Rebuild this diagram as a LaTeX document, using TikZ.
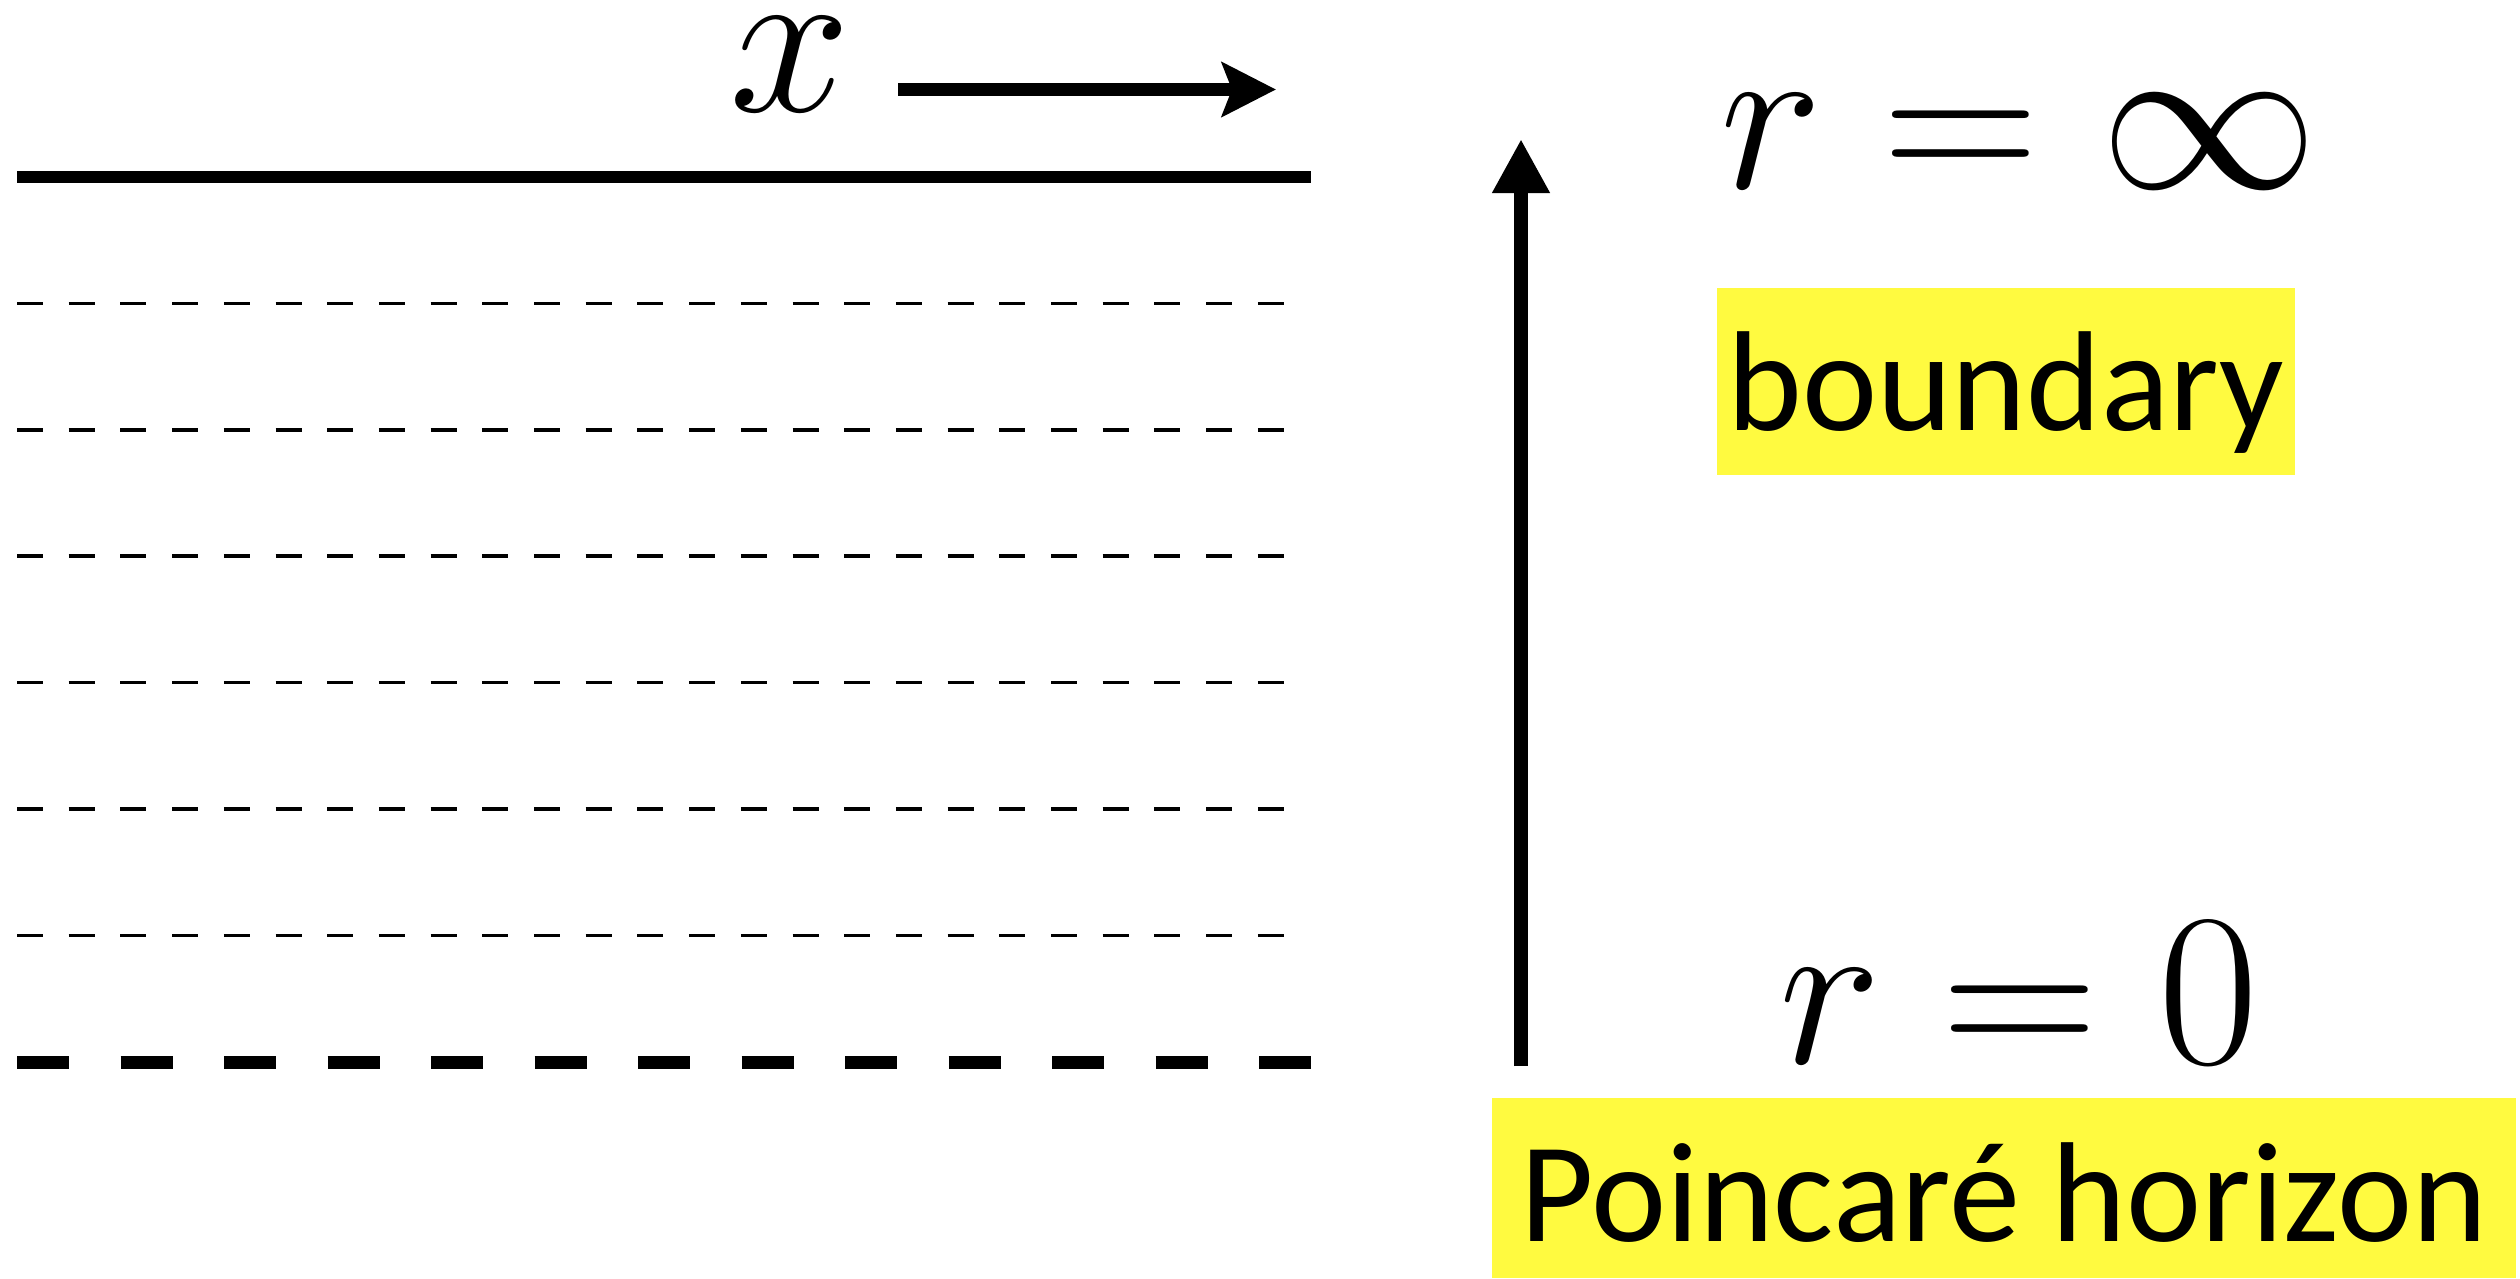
\documentclass[tikz,border=0pt]{standalone}
\usepackage{fontspec}
\newfontfamily\gillfont{Carlito}
\usetikzlibrary{arrows.meta}
\usetikzlibrary{positioning}
\definecolor{labelyellow}{RGB}{255,250,64}

\begin{document}
\begin{tikzpicture}[
  mathlabel/.style={inner sep=0pt, anchor=base, scale=2.492, font=\fontsize{24.88}{30}\selectfont},
  hilite/.style={fill=labelyellow, inner xsep=0pt, inner ysep=0pt, anchor=base, font=\gillfont\fontsize{40.5}{48}\selectfont},
  thinline/.style={line width=0.035cm, dash pattern=on 0.26cm off 0.257cm},
  thickline/.style={line width=0.13cm, dash pattern=on 0.52cm off 0.515cm}
]
  \useasboundingbox (0,0) rectangle (25.2,-12.78);

  \draw[line width=0.12cm] (0.17,-1.77) -- (13.11,-1.77);
  \foreach \k in {1,...,6}
    \draw[thinline] (0.17,-1.77-1.264*\k) -- (12.87,-1.77-1.264*\k);
  \draw[thickline] (0.17,-10.62) -- (13.12,-10.62);

  \node[mathlabel] (xlab) at (7.90,-1.11) {$x$};
  \coordinate (xstart) at (8.98,-0.895);
  \coordinate (xend) at (12.76,-0.895);
  \draw[line width=0.13cm, -{Stealth[length=0.54cm, width=0.54cm, inset=0.1cm]}] (xstart) -- (xend);

  \coordinate (rbottom) at (15.21,-10.66);
  \coordinate (rtop) at (15.21,-1.39);
  \draw[line width=0.14cm, -{Triangle[length=0.54cm, width=0.54cm]}] (rbottom) -- (rtop);

  \node[mathlabel] (rinf) at (20.19,-1.88) {$r=\infty$};
  \node[mathlabel] (rzero) at (20.19,-10.63) {$r=0$};
  \node[hilite, minimum width=5.78cm, text height=1.42cm, text depth=0.45cm] (bdy) at (20.06,-4.30) {boundary};
  \node[hilite, minimum width=10.24cm, text height=1.43cm, text depth=0.37cm] (hor) at (20.04,-12.41) {Poincaré horizon};
\end{tikzpicture}
\end{document}
